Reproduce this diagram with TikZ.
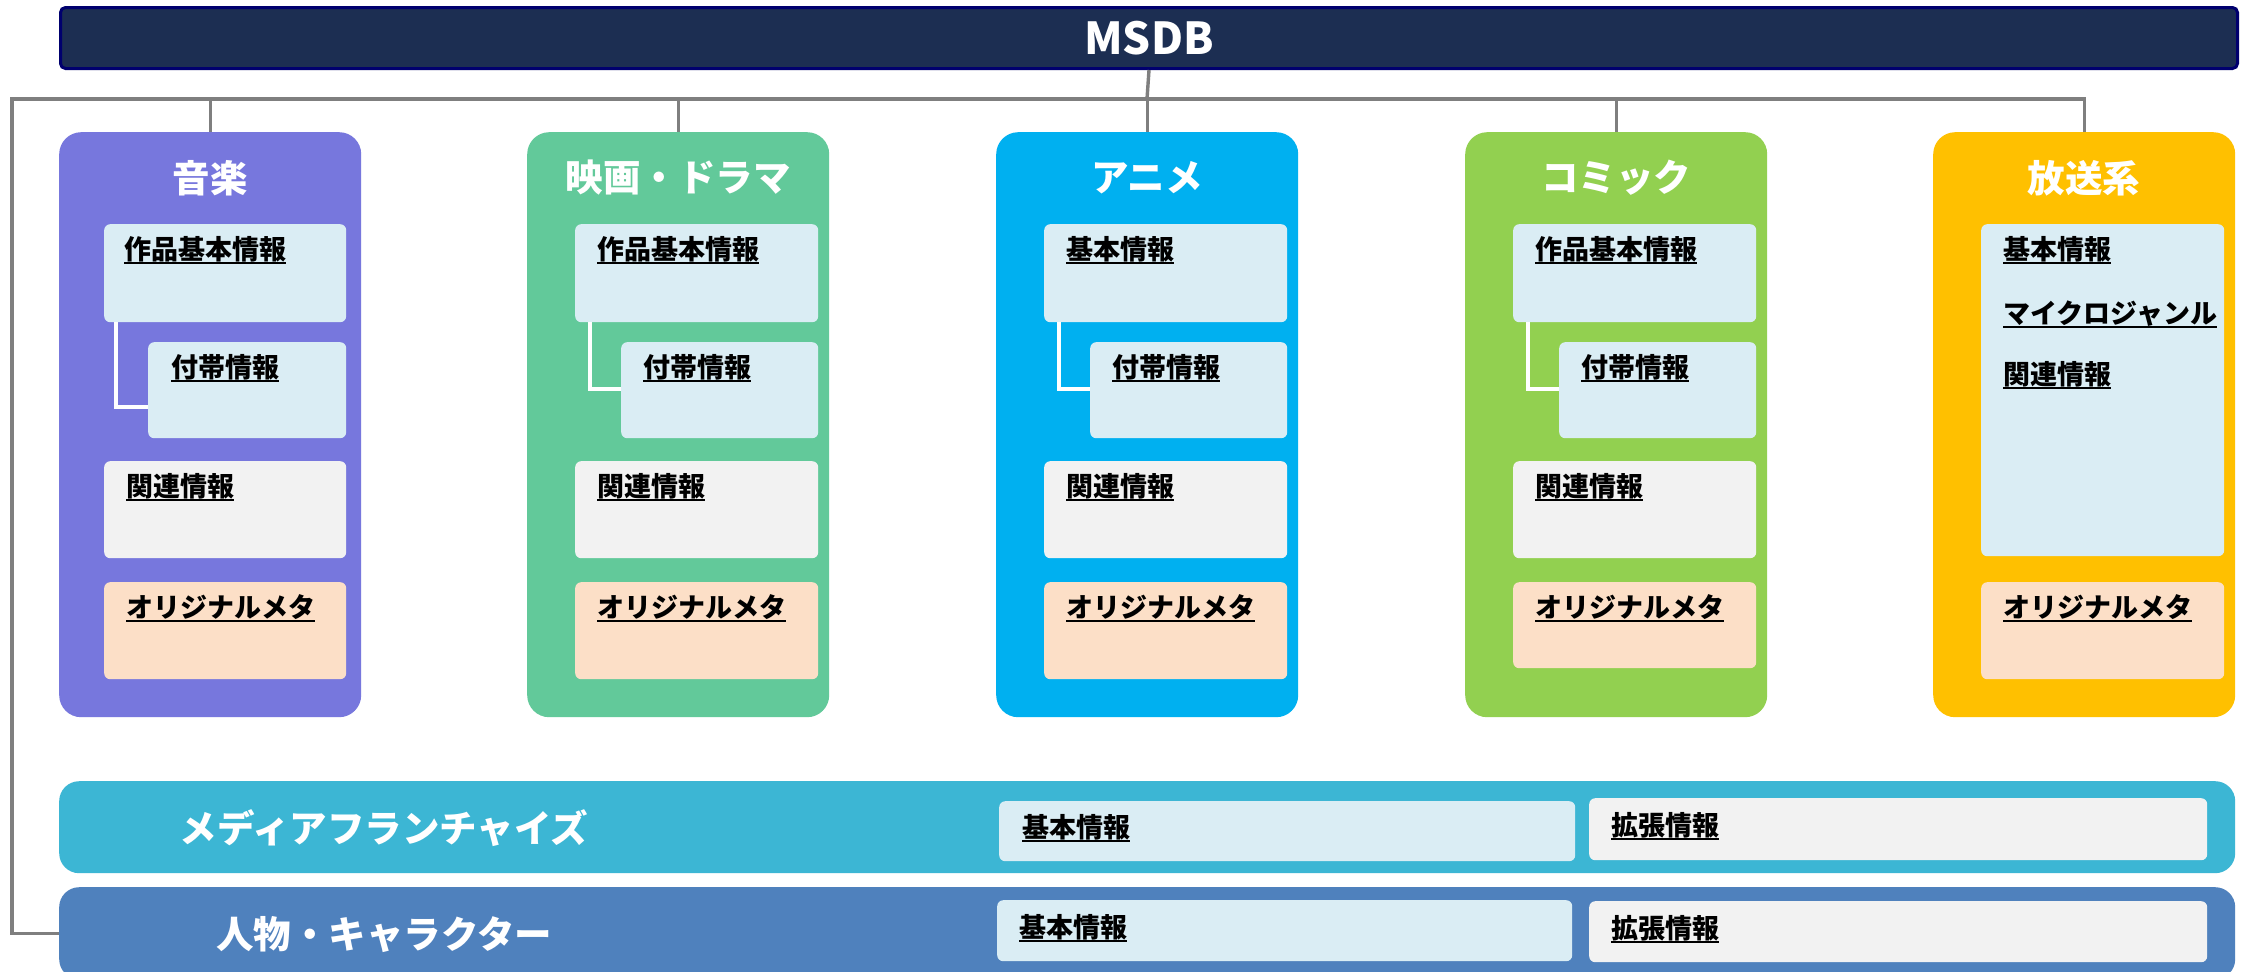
\documentclass[tikz,border=0pt]{standalone}
\usepackage{fontspec}
\setmainfont{Noto Sans CJK JP}
\definecolor{navy}{HTML}{1C2E52}
\definecolor{navyb}{HTML}{00006E}
\definecolor{lgray}{HTML}{7F7F7F}
\definecolor{cmus}{HTML}{7777DD}
\definecolor{cmov}{HTML}{62C99A}
\definecolor{cani}{HTML}{00B0F0}
\definecolor{ccom}{HTML}{92D050}
\definecolor{cbro}{HTML}{FFC000}
\definecolor{cfr}{HTML}{3CB6D4}
\definecolor{cper}{HTML}{4F81BD}
\definecolor{ibl}{HTML}{DAEDF4}
\definecolor{igr}{HTML}{F2F2F2}
\definecolor{ior}{HTML}{FCDFC7}
\newcommand\ulbl[1]{\setbox0=\hbox{#1}\rlap{\rule[-5pt]{\wd0}{2.2pt}}\box0}
\begin{document}
\begin{tikzpicture}[x=1pt,y=1pt,
  cat/.style={rounded corners=22pt, minimum width=302pt, minimum height=585pt, anchor=north west, inner sep=0pt},
  band/.style={rounded corners=20pt, minimum width=2176pt, minimum height=92pt, anchor=north west, inner sep=0pt},
  ibox/.style={rounded corners=6pt, anchor=north west, inner sep=0pt},
  ttl/.style={text=white, font=\fontsize{37.5}{40}\selectfont\bfseries, inner sep=0pt},
  lbl/.style={anchor=base west, inner sep=0pt, font=\fontsize{27}{30}\selectfont\bfseries},
  conn/.style={draw=lgray, line width=3.4pt},
  wline/.style={draw=white, line width=4pt}]
\clip (0,0) rectangle (2247,-972);
\fill[white] (0,0) rectangle (2247,-972);

% MSDB
\node[draw=navyb, line width=3pt, fill=navy, rounded corners=5pt, minimum width=2177pt, minimum height=61pt, anchor=north west, inner sep=0pt,
      text=white, font=\fontsize{44}{48}\selectfont\bfseries] (msdb) at (59,-6) {MSDB};

% category boxes
\node[cat, fill=cmus] (mus) at (59,-132) {};
\node[cat, fill=cmov] (mov) at (527,-132) {};
\node[cat, fill=cani] (ani) at (996,-132) {};
\node[cat, fill=ccom] (com) at (1465,-132) {};
\node[cat, fill=cbro] (bro) at (1933,-132) {};

% bottom bands
\node[band, fill=cfr] (fr) at (59,-781) {};
\node[band, fill=cper] (per) at (59,-887) {};

% connectors
\coordinate (j) at (1147,-99);
\coordinate (jl) at (12,-99);
\draw[conn] (msdb.south) -- (j);
\draw[conn] (bro.north) |- (jl) |- (per.west);
\draw[conn] (mus.north |- j) -- (mus.north);
\draw[conn] (mov.north |- j) -- (mov.north);
\draw[conn] (ani.north |- j) -- (ani.north);
\draw[conn] (com.north |- j) -- (com.north);

% titles
\node[ttl] (tmus) at (210,-178) {音楽};
\node[ttl] (tmov) at (678,-178) {映画・ドラマ};
\node[ttl] (tani) at (1147,-178) {アニメ};
\node[ttl] (tcom) at (1616,-178) {コミック};
\node[ttl] (tbro) at (2084,-178) {放送系};
\node[ttl] (tfr) at (384,-828) {メディアフランチャイズ};
\node[ttl] (tper) at (384,-935) {人物・キャラクター};

% ---- 音楽
\node[ibox, fill=ibl, minimum width=242pt, minimum height=98pt] (mus1) at (104,-224) {};
\node[ibox, fill=ibl, minimum width=198pt, minimum height=96pt] (mus2) at (148,-342) {};
\node[ibox, fill=igr, minimum width=242pt, minimum height=97pt] (mus3) at (104,-461) {};
\node[ibox, fill=ior, minimum width=242pt, minimum height=97pt] (mus4) at (104,-582) {};
\coordinate (musL) at (116,-407);
\draw[wline] (mus1.south -| musL) |- (mus2.west |- musL);
\node[lbl] (lmus1) at (124,-259) {\ulbl{作品基本情報}};
\node[lbl] (lmus2) at (171,-377) {\ulbl{付帯情報}};
\node[lbl] (lmus3) at (126,-496) {\ulbl{関連情報}};
\node[lbl] (lmus4) at (126,-617) {\ulbl{オリジナルメタ}};

% ---- 映画・ドラマ
\node[ibox, fill=ibl, minimum width=243pt, minimum height=98pt] (mov1) at (575,-224) {};
\node[ibox, fill=ibl, minimum width=197pt, minimum height=96pt] (mov2) at (621,-342) {};
\node[ibox, fill=igr, minimum width=243pt, minimum height=97pt] (mov3) at (575,-461) {};
\node[ibox, fill=ior, minimum width=243pt, minimum height=97pt] (mov4) at (575,-582) {};
\coordinate (movL) at (590,-389);
\draw[wline] (mov1.south -| movL) |- (mov2.west |- movL);
\node[lbl] (lmov1) at (597,-259) {\ulbl{作品基本情報}};
\node[lbl] (lmov2) at (643,-377) {\ulbl{付帯情報}};
\node[lbl] (lmov3) at (597,-496) {\ulbl{関連情報}};
\node[lbl] (lmov4) at (597,-617) {\ulbl{オリジナルメタ}};

% ---- アニメ
\node[ibox, fill=ibl, minimum width=243pt, minimum height=98pt] (ani1) at (1044,-224) {};
\node[ibox, fill=ibl, minimum width=197pt, minimum height=96pt] (ani2) at (1090,-342) {};
\node[ibox, fill=igr, minimum width=243pt, minimum height=97pt] (ani3) at (1044,-461) {};
\node[ibox, fill=ior, minimum width=243pt, minimum height=97pt] (ani4) at (1044,-582) {};
\coordinate (aniL) at (1059,-389);
\draw[wline] (ani1.south -| aniL) |- (ani2.west |- aniL);
\node[lbl] (lani1) at (1066,-259) {\ulbl{基本情報}};
\node[lbl] (lani2) at (1112,-377) {\ulbl{付帯情報}};
\node[lbl] (lani3) at (1066,-496) {\ulbl{関連情報}};
\node[lbl] (lani4) at (1066,-617) {\ulbl{オリジナルメタ}};

% ---- コミック
\node[ibox, fill=ibl, minimum width=243pt, minimum height=98pt] (com1) at (1513,-224) {};
\node[ibox, fill=ibl, minimum width=197pt, minimum height=96pt] (com2) at (1559,-342) {};
\node[ibox, fill=igr, minimum width=243pt, minimum height=97pt] (com3) at (1513,-461) {};
\node[ibox, fill=ior, minimum width=243pt, minimum height=86pt] (com4) at (1513,-582) {};
\coordinate (comL) at (1528,-389);
\draw[wline] (com1.south -| comL) |- (com2.west |- comL);
\node[lbl] (lcom1) at (1535,-259) {\ulbl{作品基本情報}};
\node[lbl] (lcom2) at (1581,-377) {\ulbl{付帯情報}};
\node[lbl] (lcom3) at (1535,-496) {\ulbl{関連情報}};
\node[lbl] (lcom4) at (1535,-617) {\ulbl{オリジナルメタ}};

% ---- 放送系
\node[ibox, fill=ibl, minimum width=243pt, minimum height=332pt] (bro1) at (1981,-224) {};
\node[ibox, fill=ior, minimum width=243pt, minimum height=97pt] (bro4) at (1981,-582) {};
\node[lbl] (lbro1) at (2003,-259) {\ulbl{基本情報}};
\node[lbl] (lbro2) at (2003,-323) {\ulbl{マイクロジャンル}};
\node[lbl] (lbro3) at (2003,-384) {\ulbl{関連情報}};
\node[lbl] (lbro4) at (2003,-617) {\ulbl{オリジナルメタ}};

% ---- bottom inner boxes
\node[ibox, fill=ibl, minimum width=576pt, minimum height=60pt] (fr1) at (999,-801) {};
\node[ibox, fill=igr, minimum width=618pt, minimum height=62pt] (fr2) at (1589,-798) {};
\node[ibox, fill=ibl, minimum width=575pt, minimum height=61pt] (per1) at (997,-900) {};
\node[ibox, fill=igr, minimum width=618pt, minimum height=61pt] (per2) at (1589,-901) {};
\node[lbl] (lfr1) at (1022,-837) {\ulbl{基本情報}};
\node[lbl] (lfr2) at (1611,-835) {\ulbl{拡張情報}};
\node[lbl] (lper1) at (1019,-937) {\ulbl{基本情報}};
\node[lbl] (lper2) at (1611,-938) {\ulbl{拡張情報}};
\end{tikzpicture}
\end{document}
